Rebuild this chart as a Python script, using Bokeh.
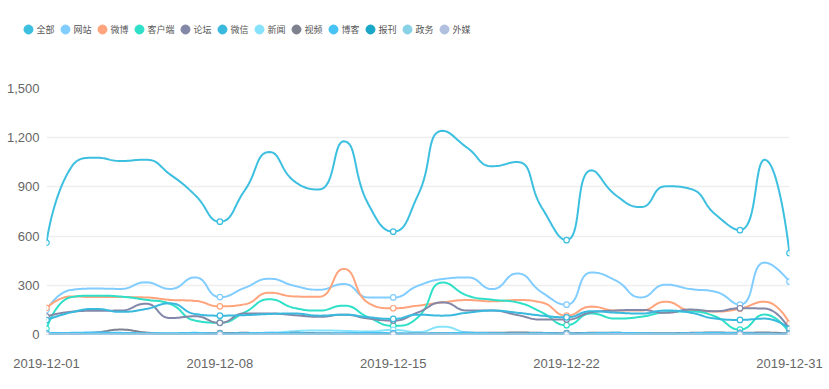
import math
import numpy as np
from bokeh.plotting import figure
from bokeh.layouts import column
from bokeh.models import Range1d, FixedTicker, NumeralTickFormatter
from bokeh.core.properties import value
from bokeh.embed import file_html
from bokeh.resources import INLINE

# ---------------- data ----------------
dates = ["2019-12-01", "2019-12-02", "2019-12-03", "2019-12-04", "2019-12-05", "2019-12-06",
         "2019-12-07", "2019-12-08", "2019-12-09", "2019-12-10", "2019-12-11", "2019-12-12",
         "2019-12-13", "2019-12-14", "2019-12-15", "2019-12-16", "2019-12-17", "2019-12-18",
         "2019-12-19", "2019-12-20", "2019-12-21", "2019-12-22", "2019-12-23", "2019-12-24",
         "2019-12-25", "2019-12-26", "2019-12-27", "2019-12-28", "2019-12-29", "2019-12-30",
         "2019-12-31"]
tick_dates = ["2019-12-01", "2019-12-08", "2019-12-15", "2019-12-22", "2019-12-31"]
y_ticks = [0, 300, 600, 900, 1200, 1500]

names = ["全部", "网站", "微博", "客户端", "论坛", "微信", "新闻", "视频", "博客", "报刊", "政务", "外媒"]

total = [560, 1020, 1078, 1058, 1066, 975, 850, 688, 878, 1113, 935, 884, 1178, 793, 627, 850,
         1242, 1137, 1026, 1052, 773, 575, 1001, 848, 777, 904, 888, 733, 636, 1066, 496]
website = [150, 272, 280, 278, 318, 278, 348, 228, 284, 340, 297, 273, 308, 226, 226, 297,
           338, 348, 277, 372, 257, 182, 378, 328, 226, 304, 277, 261, 182, 439, 322]
weibo = [162, 232, 228, 228, 226, 211, 205, 172, 184, 255, 232, 230, 400, 192, 160, 176,
         196, 210, 202, 210, 195, 115, 170, 146, 146, 200, 146, 140, 158, 200, 68]
client = [35, 228, 237, 231, 212, 186, 85, 72, 135, 215, 162, 146, 176, 105, 53, 105,
          317, 237, 212, 196, 135, 57, 128, 97, 108, 135, 140, 110, 30, 122, 10]
forum = [110, 139, 145, 146, 188, 100, 111, 71, 128, 128, 118, 108, 121, 97, 85, 135,
         196, 146, 146, 119, 91, 91, 135, 146, 150, 132, 152, 142, 160, 158, 28]
wechat = [88, 135, 156, 138, 155, 190, 125, 115, 118, 125, 128, 115, 121, 105, 95, 121,
          115, 133, 146, 133, 115, 105, 142, 133, 128, 146, 133, 97, 89, 97, 36]
news = [5, 5, 10, 8, 5, 5, 5, 5, 8, 10, 20, 25, 22, 18, 28, 15,
        48, 12, 5, 5, 5, 5, 5, 5, 5, 5, 5, 5, 5, 5, 5]
video = [5, 6, 12, 30, 12, 5, 6, 8, 10, 8, 10, 8, 6, 5, 5, 6,
         8, 10, 10, 12, 10, 8, 10, 10, 8, 8, 10, 12, 10, 12, 5]
blog = [8, 10, 12, 10, 8, 8, 10, 6, 8, 10, 8, 6, 8, 10, 8, 6,
        8, 10, 8, 6, 8, 6, 8, 10, 8, 6, 8, 10, 8, 6, 4]
paper = [2, 3, 2, 2, 3, 2, 2, 1, 2, 3, 2, 2, 3, 2, 1, 2,
         3, 2, 2, 3, 2, 1, 2, 3, 2, 2, 3, 2, 1, 2, 1]
gov = [1, 2, 1, 1, 2, 1, 1, 0, 1, 2, 1, 1, 2, 1, 0, 1,
       2, 1, 1, 2, 1, 0, 1, 2, 1, 1, 2, 1, 0, 1, 0]
foreign = [0, 1, 0, 0, 1, 0, 0, 0, 0, 1, 0, 0, 1, 0, 0, 0,
           1, 0, 0, 1, 0, 0, 0, 1, 0, 0, 1, 0, 0, 0, 0]

colors = ["#3dbfe0", "#82cdff", "#ffa47c", "#2fe0c8", "#8388a8", "#3ab9de",
          "#86e3fb", "#7e818e", "#45c3f5", "#19a7c7", "#89d1e7", "#b0c0de"]
series_values = [total, website, weibo, client, forum, wechat, news, video, blog, paper, gov, foreign]

# ---------------- layout ----------------
W = 825
LH = 44                      # legend strip height
H = 341                      # main chart height
BL, BR, BT, BB = 46, 36, 44, 51
FW, FH = W - BL - BR, H - BT - BB
YMIN, YMAX = y_ticks[0], y_ticks[-1]
n = len(dates)
kx = FW / (n - 1)
ky = FH / (YMAX - YMIN)

LEG_FONT_PX = 9
LEG_X0, LEG_Y = 28, 15       # first legend dot centre, pixels from strip left / bottom
LEG_GAP = 19                 # dot + text offset + gap between items
LEG_TEXT_DX = 8


def clamp(v, a, b):
    lo, hi = min(a, b), max(a, b)
    return min(max(v, lo), hi)


def smooth_curve(vals, smooth=0.5, steps=18):
    px = np.arange(len(vals), dtype=float) * kx
    py = np.asarray(vals, dtype=float) * ky
    m = len(px)
    cin = np.column_stack([px, py]).copy()
    cout = np.column_stack([px, py]).copy()
    for i in range(1, m - 1):
        x, y = px[i], py[i]
        prx, pry = px[i - 1], py[i - 1]
        nx, ny = px[i + 1], py[i + 1]
        vx, vy = nx - prx, ny - pry
        l0 = math.hypot(x - prx, y - pry)
        l1 = math.hypot(nx - x, ny - y)
        if l0 == 0 or l1 == 0:
            continue
        r = l1 / (l0 + l1)
        ox = clamp(x + vx * smooth * r, nx, x)
        oy = clamp(y + vy * smooth * r, ny, y)
        wx, wy = ox - x, oy - y
        ix = clamp(x - wx * l0 / l1, prx, x)
        iy = clamp(y - wy * l0 / l1, pry, y)
        wx, wy = x - ix, y - iy
        ox = x + wx * l1 / l0
        oy = y + wy * l1 / l0
        cin[i] = (ix, iy)
        cout[i] = (ox, oy)
    xs, ys = [], []
    for i in range(m - 1):
        t = np.linspace(0, 1, steps, endpoint=(i == m - 2))
        a = (1 - t) ** 3
        b = 3 * (1 - t) ** 2 * t
        c = 3 * (1 - t) * t ** 2
        d = t ** 3
        xs.append(a * px[i] + b * cout[i, 0] + c * cin[i + 1, 0] + d * px[i + 1])
        ys.append(a * py[i] + b * cout[i, 1] + c * cin[i + 1, 1] + d * py[i + 1])
    return np.concatenate(xs) / kx, np.concatenate(ys) / ky


p = figure(width=W, height=H, output_backend="svg", toolbar_location=None,
           x_range=Range1d(0, n - 1), y_range=Range1d(YMIN, YMAX),
           min_border_left=BL, min_border_right=BR, min_border_top=BT, min_border_bottom=BB,
           outline_line_color=None, background_fill_color="white", border_fill_color="white",
           frame_align=False)

AXIS_FONT = "Liberation Sans"

p.yaxis.ticker = FixedTicker(ticks=y_ticks)
p.yaxis.formatter = NumeralTickFormatter(format="0,0")
p.yaxis.axis_line_color = None
p.yaxis.major_tick_line_color = None
p.yaxis.minor_tick_line_color = None
p.yaxis.major_tick_out = 0
p.yaxis.major_tick_in = 0
p.yaxis.minor_tick_out = 0
p.yaxis.major_label_text_font = AXIS_FONT
p.yaxis.major_label_text_font_size = "13px"
p.yaxis.major_label_text_color = "#666666"
p.yaxis.major_label_standoff = 7

tick_idx = [dates.index(d) for d in tick_dates]
p.xaxis.ticker = FixedTicker(ticks=tick_idx)
p.xaxis.major_label_overrides = {i: dates[i] for i in tick_idx}
p.xaxis.axis_line_color = None
p.xaxis.major_tick_line_color = None
p.xaxis.minor_tick_line_color = None
p.xaxis.major_tick_out = 0
p.xaxis.major_tick_in = 0
p.xaxis.minor_tick_out = 0
p.xaxis.major_label_text_font = AXIS_FONT
p.xaxis.major_label_text_font_size = "13px"
p.xaxis.major_label_text_color = "#666666"
p.xaxis.major_label_standoff = 24

p.xgrid.grid_line_color = None
p.ygrid.ticker = FixedTicker(ticks=y_ticks)
p.ygrid.grid_line_color = "#eeeeee"
p.ygrid.grid_line_width = 1.5

marker_idx = list(range(0, n, 7))
if marker_idx[-1] != n - 1:
    marker_idx.append(n - 1)

for name, vals, col in zip(names, series_values, colors):
    sx, sy = smooth_curve(vals)
    p.line(sx, sy, line_color=col, line_width=2, line_join="round", line_cap="round")
    p.scatter(x=marker_idx, y=[vals[i] for i in marker_idx], marker="circle", size=5.5,
              fill_color="white", line_color=col, line_width=1.2)

# ---------------- legend strip (pixel-mapped small figure above the chart) ----------------
lg = figure(width=W, height=LH, output_backend="svg", toolbar_location=None,
            x_range=Range1d(0, W), y_range=Range1d(0, LH),
            min_border=0, x_axis_location=None, y_axis_location=None,
            outline_line_color=None, background_fill_color="white", border_fill_color="white",
            frame_align=False)
lg.xgrid.visible = False
lg.ygrid.visible = False

dot_x = []
pos = LEG_X0
for name in names:
    dot_x.append(pos)
    pos += LEG_GAP + LEG_FONT_PX * len(name)
lg.scatter(x=dot_x, y=[LEG_Y] * len(names), marker="circle", size=9,
           fill_color=colors, line_color=colors)
lg.text(x=[d + LEG_TEXT_DX for d in dot_x], y=[LEG_Y] * len(names), text=names,
        text_font=value("Noto Sans CJK SC"), text_font_size=value(f"{LEG_FONT_PX}px"),
        text_color="#555555", text_baseline="middle", text_align="left")

layout = column(lg, p, spacing=0)
open("out.html", "w").write(file_html(layout, INLINE))
